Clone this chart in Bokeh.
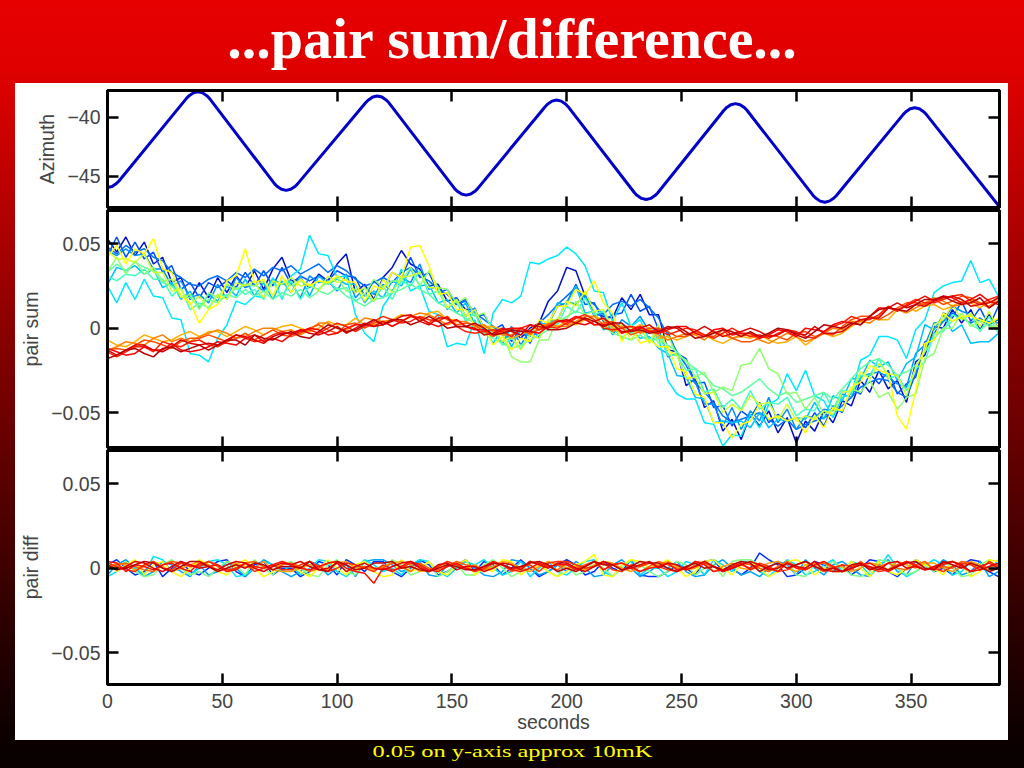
from bokeh.plotting import figure
from bokeh.models import Range1d, LinearAxis, FixedTicker, CustomJSTickFormatter, Div
from bokeh.layouts import column
from bokeh.embed import file_html
from bokeh.resources import INLINE

# ---------------- data ----------------
title_text = "...pair sum/difference..."
caption_text = "0.05 on y-axis approx 10mK"

x_ticks = [0, 50, 100, 150, 200, 250, 300, 350]
az_ticks = [-45, -40]
pair_ticks = [-0.05, 0, 0.05]

# azimuth scan (degrees), with the rounded turn-arounds
az_t = [0, 2, 4, 5,
        34.4, 35.4, 37.4, 39.4, 41.4, 43.4, 44.4,
        72.8, 73.8, 75.8, 77.8, 79.8, 81.8, 82.8,
        112.5, 113.5, 115.5, 117.5, 119.5, 121.5, 122.5,
        151.2, 152.2, 154.2, 156.2, 158.2, 160.2, 161.2,
        190.6, 191.6, 193.6, 195.6, 197.6, 199.6, 200.6,
        229.6, 230.6, 232.6, 234.6, 236.6, 238.6, 239.6,
        268.5, 269.5, 271.5, 273.5, 275.5, 277.5, 278.5,
        307.4, 308.4, 310.4, 312.4, 314.4, 316.4, 317.4,
        346.6, 347.6, 349.6, 351.6, 353.6, 355.6, 356.6,
        388.5]
az_v = [-45.96, -45.87, -45.6, -45.4,
        -38.41, -38.21, -37.94, -37.85, -37.94, -38.21, -38.41,
        -45.65, -45.85, -46.11, -46.2, -46.11, -45.85, -45.65,
        -38.76, -38.56, -38.29, -38.2, -38.29, -38.56, -38.76,
        -46.05, -46.25, -46.51, -46.6, -46.51, -46.25, -46.05,
        -39.11, -38.91, -38.64, -38.55, -38.64, -38.91, -39.11,
        -46.42, -46.62, -46.88, -46.97, -46.88, -46.62, -46.42,
        -39.41, -39.21, -38.94, -38.85, -38.94, -39.21, -39.41,
        -46.65, -46.85, -47.11, -47.2, -47.11, -46.85, -46.65,
        -39.76, -39.56, -39.29, -39.2, -39.29, -39.56, -39.76,
        -47.6]

# sample times (s) of the pair traces
t_pair = list(range(0, 389, 4))
UNIT = 0.001   # pair values below are listed in units of 1e-3

# pair sum, first (cool-coloured) group of detectors
sum_c1 = [53, 45, 54, 43, 51, 38, 42, 27, 30, 17,
          27, 18, 30, 21, 31, 24, 34, 23, 35, 42,
          28, 29, 24, 32, 28, 38, 44, 21, 26, 17,
          30, 36, 46, 38, 35, 25, 26, 16, 18, 11,
          11, 0, 1, -4, -1, -6, 0, 3, 16, 22,
          36, 34, 19, 9, 7, 6, 18, 11, 20, 8,
          8, -13, -14, -34, -30, -47, -43, -61, -54, -66,
          -51, -58, -49, -62, -53, -68, -55, -61, -49, -56,
          -43, -46, -31, -38, -25, -36, -31, -44, -20, -16,
          1, 0, 11, 3, 11, -1, 8, 0]
sum_c2 = [43, 54, 42, 51, 41, 45, 33, 37, 23, 27,
          18, 27, 24, 28, 24, 33, 25, 34, 25, 36,
          26, 31, 28, 31, 28, 34, 31, 30, 19, 28,
          23, 33, 30, 42, 30, 33, 21, 23, 14, 17,
          7, 8, -1, 2, -8, 0, -9, 3, 2, 13,
          15, 26, 14, 15, 4, 8, 9, 20, 10, 13,
          -1, -2, -15, -18, -33, -32, -47, -46, -58, -49,
          -53, -44, -56, -51, -55, -53, -59, -50, -58, -46,
          -50, -36, -39, -27, -33, -25, -39, -33, -29, -8,
          -7, 9, 6, 16, 4, 12, 1, 13]
sum_c3 = [46, 43, 47, 43, 44, 35, 35, 25, 28, 18,
          20, 15, 26, 17, 30, 24, 26, 22, 29, 26,
          27, 18, 31, 27, 28, 22, 32, 18, 24, 20,
          26, 22, 30, 27, 38, 23, 25, 11, 18, 7,
          12, -3, 1, -9, 1, -10, -1, -5, 4, 5,
          16, 14, 20, 7, 9, -4, 5, 1, 7, -2,
          0, -17, -15, -30, -32, -45, -45, -58, -47, -60,
          -49, -55, -41, -56, -48, -60, -52, -53, -48, -49,
          -39, -41, -29, -27, -26, -29, -33, -35, -15, -10,
          3, 4, 13, 10, 8, 4, 4, 3]
sum_c4 = [26, 36, 34, 37, 32, 35, 24, 27, 17, 22,
          12, 20, 16, 25, 19, 29, 19, 27, 17, 28,
          21, 31, 19, 31, 26, 29, 26, 26, 15, 22,
          18, 28, 25, 35, 25, 26, 15, 17, 9, 15,
          2, 0, -9, 0, -11, -1, -5, 3, 2, 15,
          14, 25, 9, 10, -1, 1, -6, -1, -6, -5,
          -12, -15, -28, -29, -41, -42, -56, -55, -56, -55,
          -59, -50, -59, -54, -55, -53, -54, -44, -54, -40,
          -43, -30, -30, -19, -23, -20, -31, -21, -17, 2,
          -1, 8, -2, 2, -9, -8, -8, -3]
sum_c5 = [25, 15, 27, 17, 29, 19, 18, 6, 5, -15,
          -16, -20, -6, 2, 16, 14, 19, 18, 30, 17,
          31, 35, 55, 44, 43, 30, 31, 8, -3, -8,
          13, 21, 35, 22, 25, 10, 8, -11, -9, -10,
          5, -15, 9, 17, 15, 19, 39, 38, 41, 43,
          48, 44, 37, 22, 21, 4, 15, 1, 5, -7,
          -5, -31, -39, -42, -42, -56, -57, -70, -63, -64,
          -51, -59, -45, -42, -27, -37, -25, -40, -43, -53,
          -41, -39, -19, -16, -5, -5, -7, -18, -1, 5,
          21, 25, 27, 28, 40, 27, 29, 19]
sum_c6 = [31, 28, 32, 31, 35, 29, 29, 19, 24, 11,
          15, 12, 20, 19, 24, 20, 23, 17, 28, 18,
          28, 17, 25, 23, 28, 23, 24, 16, 20, 16,
          25, 17, 28, 25, 34, 20, 22, 12, 16, 4,
          9, -4, -1, -10, -6, -12, -4, -6, 4, 2,
          13, 9, 18, 8, 10, -2, 1, -3, -1, -7,
          -3, -16, -16, -25, -24, -38, -36, -47, -42, -48,
          -37, -48, -44, -45, -41, -52, -48, -49, -38, -48,
          -37, -38, -28, -28, -18, -30, -28, -37, -24, -20,
          -3, -2, 8, 5, 8, -2, 7, -3]
sum_c7 = [33, 42, 32, 40, 32, 36, 28, 29, 18, 20,
          11, 21, 18, 26, 23, 26, 25, 28, 19, 30,
          25, 28, 25, 28, 26, 30, 22, 23, 20, 29,
          24, 28, 28, 36, 25, 34, 24, 23, 15, 18,
          7, 9, -2, -3, -17, -20, -20, -7, -7, 6,
          5, 16, 8, 10, 0, 3, -7, 1, -3, 0,
          -9, -4, -16, -19, -29, -26, -38, -35, -37, -22,
          -21, -12, -24, -27, -39, -38, -48, -41, -51, -48,
          -49, -36, -38, -31, -41, -38, -48, -41, -39, -18,
          -15, 0, 0, 9, 1, 4, 1, 1]
sum_c8 = [46, 41, 41, 39, 44, 33, 33, 22, 23, 14,
          19, 11, 20, 17, 27, 25, 28, 18, 28, 26,
          30, 25, 26, 22, 31, 27, 29, 21, 24, 16,
          29, 21, 30, 31, 33, 24, 24, 12, 17, 7,
          11, 0, 0, -8, -5, -13, -4, -6, 5, 5,
          16, 13, 22, 10, 11, 0, 2, -7, 1, -9,
          2, -13, -16, -30, -29, -39, -38, -50, -45, -49,
          -40, -45, -44, -54, -45, -55, -52, -54, -49, -51,
          -38, -37, -26, -30, -21, -27, -28, -40, -23, -13,
          2, 5, 14, 5, 9, 1, 10, -1]
sum_c9 = [42, 49, 38, 47, 44, 53, 35, 33, 19, 15,
          3, 11, 14, 28, 31, 47, 27, 29, 19, 31,
          21, 29, 25, 28, 27, 31, 28, 27, 16, 25,
          23, 33, 30, 48, 49, 37, 20, 21, 11, 11,
          1, 1, -10, -5, -13, -6, -8, 5, 3, 13,
          13, 23, 20, 28, 15, 9, -8, 2, -9, -7,
          -11, -11, -24, -26, -39, -41, -56, -56, -65, -57,
          -55, -45, -54, -52, -55, -53, -62, -52, -59, -47,
          -49, -35, -32, -22, -25, -27, -52, -60, -37, -9,
          -7, 9, 4, 7, 7, 5, 3, 6]
sum_c10 = [48, 44, 49, 45, 47, 42, 40, 33, 30, 26,
           25, 29, 31, 28, 33, 30, 35, 31, 36, 34,
           37, 32, 35, 38, 33, 37, 34, 29, 25, 27,
           30, 27, 33, 36, 31, 28, 23, 20, 14, 16,
           9, 5, 1, -3, -6, -4, -2, 3, 8, 14,
           19, 24, 18, 14, 8, 14, 16, 13, 17, 12,
           6, -4, -14, -22, -32, -38, -44, -52, -56, -54,
           -52, -50, -54, -58, -54, -60, -57, -55, -53, -51,
           -46, -41, -35, -32, -30, -31, -38, -41, -27, -12,
           -3, 4, 9, 6, 3, 6, 2, 5]
sum_c11 = [33, 38, 34, 39, 36, 34, 27, 25, 19, 18,
           13, 17, 15, 20, 18, 23, 19, 22, 17, 21,
           19, 23, 18, 22, 20, 24, 19, 16, 13, 17,
           18, 21, 23, 26, 23, 20, 15, 12, 9, 6,
           3, -3, -6, -9, -12, -10, -7, -4, -1, 3,
           7, 10, 8, 5, 1, -3, -5, -7, -4, -8,
           -6, -10, -14, -20, -24, -28, -34, -36, -40, -38,
           -34, -30, -36, -40, -38, -44, -42, -40, -38, -42,
           -36, -30, -24, -20, -18, -22, -28, -26, -22, -14,
           -6, 0, 4, 7, 2, -1, 3, -2]

# pair sum, second (warm-coloured) group of detectors
sum_w1 = [-7, -10, -11, -8, -4, -6, -8, -7, -4, -2,
          -5, -2, -2, -5, -2, 1, -1, -4, -1, 1,
          2, 0, -2, 0, 4, 2, 2, 6, 2, 2,
          3, 5, 8, 7, 5, 9, 10, 5, 5, 1,
          0, 1, 1, -1, -6, -4, -1, 2, 2, 1,
          4, 2, 5, 7, 5, 0, -3, -1, 2, 0,
          -6, -5, -7, -5, -3, -4, -7, -9, -6, -5,
          -6, -4, -7, -9, -8, -5, -10, -6, -3, -5,
          -3, 1, 4, 7, 5, 5, 11, 13, 10, 13,
          14, 11, 13, 16, 15, 12, 16, 15]
sum_w2 = [-13, -11, -8, -9, -10, -6, -4, -8, -6, -8,
          -5, -3, -1, -3, -6, -5, -2, 0, 0, -2,
          -1, -4, -1, 3, 3, 0, -1, 2, 6, 5,
          4, 5, 4, 7, 9, 8, 5, 2, 4, 4,
          1, 2, -2, -4, -4, 0, -4, 0, 3, 1,
          1, 4, 7, 7, 2, -2, 1, 1, -3, -1,
          -4, -7, -5, -3, -4, -7, -2, -4, -6, -4,
          -4, -7, -9, -6, -3, -5, -8, -6, -3, 0,
          -1, 4, 4, 3, 7, 12, 11, 9, 12, 15,
          18, 16, 13, 14, 17, 15, 13, 18]
sum_w3 = [-13, -12, -13, -10, -7, -8, -10, -12, -8, -6,
          -6, -4, -6, -8, -6, -3, -7, -4, -1, -4,
          -5, -3, 0, 2, -1, -3, 2, 3, 0, 3,
          4, 1, 4, 7, 6, 3, 8, 5, 2, 3,
          2, -2, -5, -2, 0, -1, -3, -1, 2, 5,
          2, 6, 6, 2, 3, 4, 0, -4, -2, 0,
          0, -2, -5, -5, -2, -4, -5, -1, -6, -8,
          -8, -6, -4, -5, -7, -3, -2, -5, -3, -4,
          1, 5, 7, 7, 5, 8, 12, 15, 15, 14,
          17, 14, 16, 19, 18, 15, 12, 16]
sum_w4 = [-14, -17, -14, -11, -11, -14, -8, -10, -11, -8,
          -7, -10, -11, -8, -4, -6, -8, -7, -4, -2,
          -4, -1, -1, -3, 0, 3, 1, -2, 1, 4,
          7, 5, 3, 4, 7, 5, 4, 7, 1, -2,
          -3, -2, -1, -2, -5, 0, 2, -1, 1, 0,
          3, 6, 8, 5, 0, -1, 0, 1, 0, -2,
          -1, -4, -2, 0, -1, -4, -6, -3, 0, -3,
          -5, -4, -6, -3, -1, -2, -5, -6, -2, 1,
          3, 7, 5, 5, 8, 13, 10, 14, 17, 15,
          15, 17, 19, 20, 16, 14, 17, 19]
sum_w5 = [-12, -14, -16, -15, -11, -13, -13, -9, -13, -14,
          -13, -11, -8, -9, -10, -6, -4, -8, -6, -8,
          -4, -2, 0, -1, -4, -3, 0, 2, 2, 1,
          4, 1, 4, 7, 6, 3, 1, 3, 5, 1,
          -1, -1, -4, -1, 0, 0, -2, -3, 1, 4,
          4, 7, 5, 2, 2, 3, -3, -1, 1, -2,
          -3, -1, 1, 1, -3, -5, -1, 0, -4, -3,
          -3, -6, -4, -1, -2, -5, 0, -1, -2, 2,
          4, 3, 2, 7, 12, 12, 11, 13, 16, 19,
          16, 19, 18, 15, 17, 20, 16, 14]
sum_w6 = [-13, -16, -13, -10, -10, -13, -14, -11, -7, -9,
          -10, -9, -10, -7, -4, -5, -7, -9, -5, -3,
          -3, -1, -3, -4, -2, 1, -3, 0, 3, 1,
          2, 4, 7, 8, 4, 2, 6, 6, 1, 1,
          0, -4, -3, 0, -2, -4, 2, 1, 0, 4,
          5, 3, 2, 4, 6, 2, -2, -2, 0, 2,
          -2, 1, 0, -4, -2, 1, -2, -5, -3, -2,
          0, -2, -5, -4, -1, -3, -4, 1, -3, -3,
          -2, 2, 5, 6, 6, 12, 15, 12, 14, 13,
          16, 18, 19, 17, 13, 14, 15, 18]
sum_w7 = [-18, -16, -13, -12, -15, -17, -12, -11, -14, -12,
          -10, -13, -10, -7, -7, -10, -4, -6, -7, -4,
          -2, -5, -6, -2, 2, 0, -2, -1, 2, 5,
          2, 5, 5, 2, 4, 7, 4, 0, 1, 1,
          3, 0, -4, -3, -1, -2, -2, 3, -1, -1,
          0, 3, 6, 4, 1, 3, 3, -2, -1, -3,
          -2, 0, 1, -2, -6, -5, -3, -1, -2, -5,
          -2, -5, -3, 0, -1, -4, -6, -2, 2, 1,
          0, 3, 2, 7, 11, 12, 11, 10, 14, 17,
          17, 19, 16, 14, 15, 18, 12, 16]

# pair difference
diff_1 = [2, 5, 0, -4, -2, 4, -5, 0, 4, -2,
          -4, 0, 4, 5, -2, -5, 2, 4, -4, 0,
          0, -5, -2, 4, 2, -4, 5, 2, -2, 4,
          4, -2, -5, 0, 5, 2, -4, -2, 2, 5,
          -2, 4, 2, -4, 0, 5, 0, -5, -2, 2,
          5, 2, -4, -2, 4, 0, -2, 5, -4, -5,
          -5, -2, 2, 0, -4, 4, 5, -2, 0, -4,
          0, 9, 5, 2, -5, -4, 0, 4, 2, -2,
          2, -4, 0, 5, 4, -2, -5, 0, 5, 2,
          -2, 0, -4, 2, 5, 4, -2, -5]
diff_2 = [-4, 2, 5, 0, -5, -2, 4, 2, -2, -5,
          2, -4, -2, 4, 0, -5, 0, 5, 2, -2,
          -5, -2, 4, 2, -4, 0, 2, -5, 4, 5,
          5, 2, -2, 0, 4, -4, -5, 2, 0, 4,
          0, -4, -5, -2, 5, 4, 0, -4, -2, 2,
          -2, 4, 0, -5, -4, 2, 5, 0, -5, -2,
          2, 0, 4, -2, -5, -4, 2, 5, 0, -4,
          -2, -5, 0, 4, 2, -4, 5, 0, -4, 2,
          4, 0, -4, -5, 2, 5, -2, -4, 4, 0,
          0, 5, 2, -4, -2, 4, -5, -2]
diff_3 = [-5, -2, 2, 0, -4, 7, 5, -2, 0, -4,
          0, 4, 5, 2, -5, -4, 0, 4, 2, -2,
          2, -4, 0, 5, 4, -2, -5, 0, 5, 2,
          -2, 0, -4, 2, 5, 4, -2, -5, 0, 4,
          2, 5, 0, -4, -2, 4, -5, 0, 4, -2,
          -4, 0, 4, 5, -2, -5, 2, 4, -4, 0,
          0, -5, -2, 4, 2, -4, 5, 2, -2, 4,
          4, -2, -5, 0, 5, 2, -4, -2, 2, 5,
          -2, 4, 2, -4, 0, 8, 0, -5, -2, 2,
          5, 2, -4, -2, 4, 0, -2, 5]
diff_4 = [2, 0, 4, -2, -5, -4, 2, 5, 0, -4,
          -2, -5, 0, 4, 2, -4, 5, 0, -4, 2,
          4, 0, -4, -5, 2, 5, -2, -4, 4, 0,
          0, 5, 2, -4, -2, 4, -5, -2, 2, -4,
          -4, 2, 5, 0, -5, -2, 4, 2, -2, -5,
          2, -4, -2, 4, 0, -5, 0, 5, 2, -2,
          -5, -2, 4, 2, -4, 0, 2, -5, 4, 5,
          5, 2, -2, 0, 4, -4, -5, 2, 0, 4,
          0, -4, -5, -2, 5, 4, 0, -4, -2, 2,
          -2, 4, 0, -5, -4, 2, 5, 0]
diff_5 = [4, -2, 2, 5, -4, 2, 4, -2, -5, 0,
          5, 2, -2, -4, 2, 5, 0, -5, -2, 4,
          2, -2, -5, 0, 5, 0, -4, 2, 4, -2,
          -5, -4, 5, -2, 0, 4, -2, -4, 2, 5,
          -4, 0, -2, 5, 4, -4, 0, 2, -2, -5,
          -2, 2, 4, 8, -4, -5, 2, 5, 4, 0,
          2, 5, 0, -5, -2, 4, 5, 0, -4, 2,
          4, 0, -5, -2, 4, 5, 2, -4, 0, -2,
          -2, 4, 0, -5, 4, -2, -4, 0, 5, 2,
          0, -4, 4, 2, -5, -2, 5, 4]
diff_6 = [0, 3, 2, -1, 1, 4, 1, -2, 0, 2,
          4, 2, -1, 0, 3, 1, 0, 4, -1, -2,
          -2, 0, 2, 1, -1, 3, 4, 0, 1, -1,
          1, 3, 4, 2, -2, -1, 1, 3, 2, 0,
          2, -1, 1, 4, 3, 0, -2, 1, 4, 2,
          0, 1, -1, 2, 4, 3, 0, -2, 1, 3,
          2, 4, 1, -1, 0, 3, -2, 1, 3, 0,
          -1, 1, 3, 4, 0, -2, 2, 3, -1, 1,
          1, -2, 0, 3, 2, -1, 4, 2, 0, 3,
          3, 0, -2, 1, 4, 2, -1, 0]
diff_7 = [0, 2, 3, 1, -1, -2, 2, 4, 3, 1,
          2, 4, 1, -2, 0, 3, 4, 1, -1, 2,
          3, 1, -2, 0, 3, 4, 2, -1, 1, 0,
          0, 3, 1, -2, 3, 0, -1, 1, 4, 2,
          1, -1, 3, 2, -2, 0, 4, 3, 1, -1,
          3, 0, 2, 4, -1, 2, 3, 0, -2, 1,
          4, 2, 0, -1, 2, 4, 1, -2, 0, 3,
          2, 0, -2, 1, 4, 1, -1, 2, 3, 0,
          -2, -1, 4, 0, 1, 3, 0, -1, 2, 4,
          -1, 1, 0, 4, 3, -1, 1, 2]
diff_8 = [3, 1, -1, -2, 2, 4, 0, -1, 3, 1,
          1, 4, 2, -1, 0, 3, -2, 0, 2, -1,
          -1, 2, 4, 1, -2, 0, 3, 2, 0, -2,
          2, -1, 0, 3, 1, -2, 1, 4, 2, 0,
          -2, 0, 3, 2, -1, 1, 2, -2, 3, 4,
          4, 2, 0, 1, 3, -1, -2, 2, 1, 3,
          1, -1, -2, 0, 4, 3, 1, -1, 0, 2,
          0, 3, 1, -2, -1, 2, 4, 1, -2, 0,
          2, 1, 3, 0, -2, -1, 2, 4, 1, -1,
          0, -2, 1, 3, 2, -1, 4, 1]
diff_9 = [4, 3, -2, 2, 1, -1, 2, 3, 0, -2,
          3, 1, 2, -2, -1, 3, 1, 0, 2, 4,
          2, 0, -1, 1, 3, 4, 0, -2, -3, -9,
          0, -2, 1, 4, 2, -1, -2, 1, 3, 0,
          -1, 1, 4, 2, -1, -2, 0, 3, 1, 2,
          2, -1, 1, 4, -1, 2, 3, 1, -2, 0,
          1, 3, -1, 0, 4, 2, -2, -1, 1, 3,
          -1, 2, 0, -2, 3, 0, -1, 2, 4, 1,
          -2, 0, 2, 3, 0, -2, 1, 4, 2, -1,
          0, 2, 4, 1, -2, 1, 3, 0]
diff_10 = [2, -1, 1, 4, 3, 0, -2, 1, 4, 2,
           0, 1, -1, 2, 4, 3, 0, -2, 1, 3,
           2, 4, 1, -1, 0, 3, -2, 1, 3, 0,
           -1, 1, 3, 4, 0, -2, 2, 3, -1, 1,
           1, -2, 0, 3, 2, -1, 4, 2, 0, 3,
           3, 0, -2, 1, 4, 2, -1, 0, 2, 4,
           0, 3, 2, -1, 1, 4, 1, -2, 0, 2,
           4, 2, -1, 0, 3, 1, 0, 4, -1, -2,
           -2, 0, 2, 1, -1, 3, 4, 0, 1, -1,
           1, 3, 4, 2, -2, -1, 1, 3]
diff_11 = [2, -1, 0, 2, 4, 3, 0, -2, 1, 4,
           4, 1, -2, 0, 2, 0, 3, 2, -1, 1,
           1, 0, 4, -1, -2, 4, 2, -1, 0, 3,
           3, 4, 0, 1, -1, -2, 0, 2, 1, -1,
           -1, 1, 3, 2, 0, 1, 3, 4, 2, -2,
           0, -2, 1, 4, 2, 2, -1, 1, 4, 3,
           3, 0, -2, 1, 3, 0, 1, -1, 2, 4,
           3, -2, 1, 3, 0, 2, 4, 1, -1, 0,
           -2, 2, 3, -1, 1, -1, 1, 3, 4, 0,
           -1, 4, 2, 0, 3, 1, -2, 0]

sum_cool = [sum_c1, sum_c2, sum_c10, sum_c3, sum_c4, sum_c5, sum_c6,
            sum_c11, sum_c7, sum_c8, sum_c9]
sum_cool_colors = ["#0010d0", "#0050ff", "#0070ff", "#0090ff", "#00c0ff", "#00e8ff",
                   "#40ffc0", "#60ffa0", "#90ff70", "#d0ff30", "#ffff00"]
sum_warm = [sum_w1, sum_w2, sum_w3, sum_w4, sum_w5, sum_w6, sum_w7]
sum_warm_colors = ["#ffb000", "#ff8000", "#ff5000", "#ff2000", "#ff0000", "#dd0000", "#b40000"]
diff_series = [diff_1, diff_2, diff_3, diff_4, diff_5, diff_6, diff_7,
               diff_8, diff_9, diff_10, diff_11]
diff_colors = ["#0030ff", "#00a0ff", "#00e0ff", "#80ff80", "#ffff00",
               "#ffa000", "#ff6000", "#ff3000", "#ff1000", "#e00000", "#c00000"]

# ---------------- styling ----------------
FONT = "Liberation Sans"
FS = "19.5px"
X_RANGE = (0, 388.5)
MINUS = "\u2212"

pair_fmt = CustomJSTickFormatter(code=(
    "if (Math.abs(tick) < 1e-9) { return '0'; }"
    "return (tick < 0 ? '" + MINUS + "' : '') + Math.abs(tick).toFixed(2);"))
az_fmt = CustomJSTickFormatter(code=(
    "return (tick < 0 ? '" + MINUS + "' : '') + Math.abs(tick).toFixed(0);"))


def tick_only_axis(ticks):
    # box side of a Matlab-style axes: inward ticks, no labels
    return LinearAxis(ticker=FixedTicker(ticks=ticks), major_label_text_font_size="0px",
                      major_label_text_color=None, major_label_standoff=0,
                      major_tick_in=11, major_tick_out=0,
                      minor_tick_in=0, minor_tick_out=0, axis_line_width=3,
                      major_tick_line_width=2.5)


def panel(height, yr, yticks, yfmt, ylabel, top_b, bottom_b, show_x):
    p = figure(width=993, height=height, x_range=Range1d(*X_RANGE), y_range=Range1d(*yr),
               toolbar_location=None, output_backend="svg",
               x_axis_location=None, y_axis_location=None,
               min_border_left=92, min_border_right=9,
               min_border_top=top_b, min_border_bottom=bottom_b)
    p.xgrid.visible = False
    p.ygrid.visible = False
    p.outline_line_color = "black"
    p.outline_line_width = 3
    p.background_fill_color = "white"
    p.border_fill_color = "white"

    yl = LinearAxis(ticker=FixedTicker(ticks=yticks), formatter=yfmt, axis_label=ylabel,
                    axis_label_text_font=FONT, axis_label_text_font_size=FS,
                    axis_label_text_font_style="normal", axis_label_standoff=6,
                    major_label_text_font=FONT, major_label_text_font_size=FS,
                    major_label_standoff=7, major_tick_in=11, major_tick_out=0,
                    minor_tick_in=0, minor_tick_out=0, axis_line_width=3,
                    major_tick_line_width=2.5)
    p.add_layout(yl, "left")
    p.add_layout(tick_only_axis(yticks), "right")
    p.add_layout(tick_only_axis(x_ticks), "above")
    if show_x:
        xb = LinearAxis(ticker=FixedTicker(ticks=x_ticks), axis_label="seconds",
                        axis_label_text_font=FONT, axis_label_text_font_size=FS,
                        axis_label_text_font_style="normal", axis_label_standoff=0,
                        major_label_text_font=FONT, major_label_text_font_size=FS,
                        major_label_standoff=9, major_tick_in=11, major_tick_out=0,
                        minor_tick_in=0, minor_tick_out=0, axis_line_width=3,
                        major_tick_line_width=2.5)
        p.add_layout(xb, "below")
    else:
        p.add_layout(tick_only_axis(x_ticks), "below")
    return p


def draw_pairs(p, series, colors):
    for vals, c in zip(series, colors):
        n = min(len(vals), len(t_pair))
        p.line(t_pair[:n], [v * UNIT for v in vals[:n]], line_color=c, line_width=1.5)


p_az = panel(126, (-47.65, -37.74), az_ticks, az_fmt, "Azimuth", 7, 2, False)
p_az.line(az_t, az_v, line_color="#0000c8", line_width=3)

p_sum = panel(240, (-0.0707, 0.0697), pair_ticks, pair_fmt, "pair sum", 1, 2, False)
draw_pairs(p_sum, sum_cool, sum_cool_colors)
draw_pairs(p_sum, sum_warm, sum_warm_colors)

p_diff = panel(291, (-0.0689, 0.0697), pair_ticks, pair_fmt, "pair diff", 1, 56, True)
draw_pairs(p_diff, diff_series, diff_colors)

panels = column(p_az, p_sum, p_diff, margin=(0, 16, 0, 15),
                styles={"background-color": "#ffffff"})

title_div = Div(text=('<div style="width:1024px;text-align:center;color:#ffffff;'
                      'font-family:\'Liberation Serif\';font-weight:bold;font-size:58px;'
                      'line-height:58px;padding-top:10px;white-space:nowrap;">'
                      + title_text + '</div>'),
                width=1024, height=83, margin=(0, 0, 0, 0))
caption_div = Div(text=('<div style="width:1024px;text-align:center;color:#ffff00;'
                        'font-family:\'Liberation Serif\';font-size:17.7px;'
                        'line-height:18px;padding-top:2px;white-space:nowrap;">'
                        '<span style="display:inline-block;transform:scaleX(1.38);'
                        'transform-origin:center;">' + caption_text + '</span></div>'),
                  width=1024, height=28, margin=(0, 0, 0, 0))

page = column(title_div, panels, caption_div,
              styles={"background": "linear-gradient(180deg, #e60000 0px, #e00000 70px, "
                                    "#b40000 210px, #800000 360px, #500000 510px, "
                                    "#280000 640px, #0e0000 730px, #080000 768px)"})

open("out.html", "w").write(file_html(page, INLINE))
